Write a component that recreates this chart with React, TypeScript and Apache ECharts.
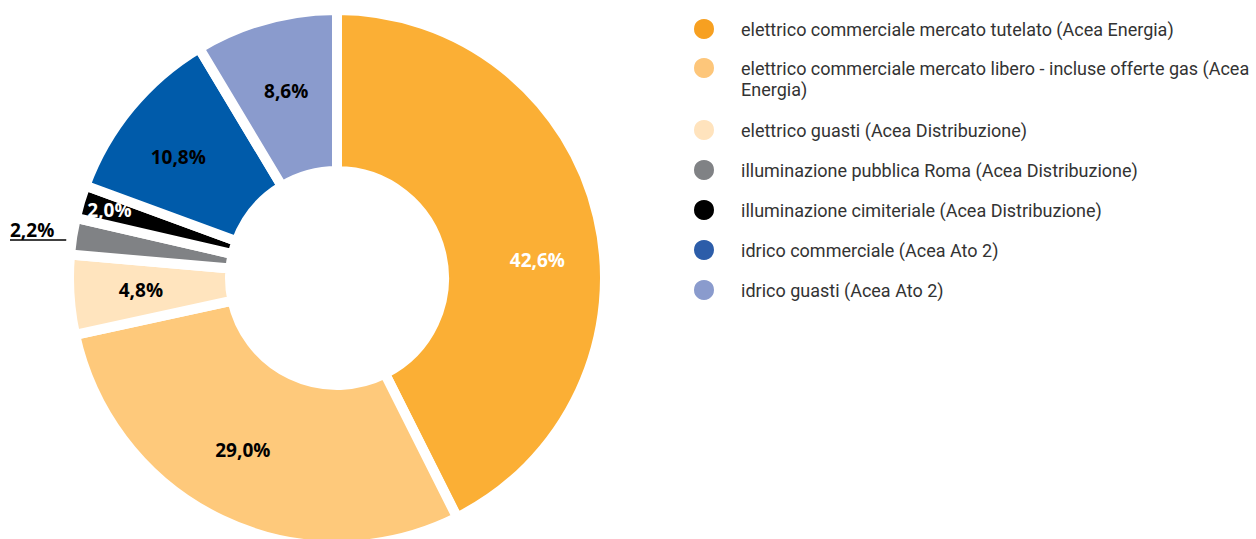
import React, { useEffect, useRef } from "react";
import * as echarts from "echarts";

const categories = [
  "elettrico commerciale mercato tutelato (Acea Energia)",
  "elettrico commerciale mercato libero - incluse offerte gas (Acea Energia)",
  "elettrico guasti (Acea Distribuzione)",
  "illuminazione pubblica Roma (Acea Distribuzione)",
  "illuminazione cimiteriale (Acea Distribuzione)",
  "idrico commerciale (Acea Ato 2)",
  "idrico guasti (Acea Ato 2)",
];
const legendLabels = [
  "elettrico commerciale mercato tutelato (Acea Energia)",
  " \nelettrico commerciale mercato libero - incluse offerte gas (Acea\nEnergia)",
  "elettrico guasti (Acea Distribuzione)",
  "illuminazione pubblica Roma (Acea Distribuzione)",
  "illuminazione cimiteriale (Acea Distribuzione)",
  "idrico commerciale (Acea Ato 2)",
  "idrico guasti (Acea Ato 2)",
];
const values = [42.6, 29.0, 4.8, 2.2, 2.0, 10.8, 8.6];
const sliceColors = ["#FBAF35", "#FEC97B", "#FFE4BE", "#808285", "#000000", "#005BAA", "#8A9BCD"];
const legendColors = ["#F7A021", "#FDC67A", "#FFE3BD", "#808285", "#000000", "#2C5DA9", "#8A9BCD"];
const labelColors = ["#ffffff", "#000000", "#000000", "#000000", "#ffffff", "#000000", "#000000"];

const fmt = (v: number) => v.toFixed(1).replace(".", ",") + "%";

export default function App() {
  const ref = useRef<HTMLDivElement>(null);
  useEffect(() => {
    document.body.style.margin = "0";
    const chart = echarts.init(ref.current!, undefined, { renderer: "svg" });
    const cx = 337;
    const cy = 278;
    const rOut = 268;
    const labelOffsets: Record<number, [number, number]> = {
      0: [15, 26],
      1: [-12, 0],
      2: [-6, 0],
      4: [-45, -14],
      5: [-12, 0],
      6: [0, -3],
    };
    const rowCenters = [28, 68, 129, 169, 209, 249, 289];
    const lineH = 21;
    const legends = categories.map((name, i) => {
      const nLines = legendLabels[i].split("\n").length;
      const textH = nLines * lineH;
      const topExtra = Math.max(0, (textH - 22) / 2);
      return {
        orient: "vertical",
        left: 692,
        top: rowCenters[i] - 11 - topExtra,
        padding: 0,
        itemWidth: 22,
        itemHeight: 22,
        icon: "circle",
        selectedMode: false,
        formatter: () => legendLabels[i],
        textStyle: {
          fontFamily: "Roboto",
          fontSize: 18,
          color: "#333333",
          lineHeight: lineH,
          padding: [0, 0, 0, 21],
        },
        data: [{ name, itemStyle: { color: legendColors[i] } }],
      };
    });
    chart.setOption({
      animation: false,
      legend: legends,
      series: [
        {
          type: "pie",
          center: [cx, cy],
          radius: [107, rOut],
          startAngle: 90,
          clockwise: true,
          avoidLabelOverlap: false,
          itemStyle: { borderColor: "#ffffff", borderWidth: 10 },
          label: {
            show: true,
            position: "inside",
            fontFamily: "Open Sans",
            fontWeight: "bold",
            fontSize: 19,
            formatter: (p: any) => fmt(p.value),
          },
          labelLine: { show: false },
          emphasis: { disabled: true },
          data: categories.map((name, i) => {
            const item: any = {
              name,
              value: values[i],
              itemStyle: { color: sliceColors[i] },
              label: { color: labelColors[i] },
            };
            if (i === 3) {
              item.label = { position: "outside", color: "#000000" };
              item.labelLine = {
                show: true,
                length: 5,
                length2: 20,
                lineStyle: { color: "#000000", width: 1.5 },
              };
            }
            return item;
          }),
          labelLayout: (params: any) => {
            const i = params.dataIndex;
            if (i === 3) {
              let p0 = params.labelLinePoints && params.labelLinePoints[0];
              if (!p0) {
                const before = values.slice(0, 3).reduce((a, b) => a + b, 0);
                const total = values.reduce((a, b) => a + b, 0);
                const ang = ((before + values[3] / 2) / total) * Math.PI * 2;
                p0 = [cx + rOut * Math.sin(ang), cy - rOut * Math.cos(ang)];
              }
              const y = p0[1] + 4;
              return {
                x: 10,
                y: y - 1,
                align: "left",
                verticalAlign: "bottom",
                labelLinePoints: [
                  [p0[0] - 6, y],
                  [p0[0] - 6, y],
                  [10, y],
                ],
              };
            }
            const o = labelOffsets[i];
            if (o) return { dx: o[0], dy: o[1] };
            return {};
          },
        },
      ],
    });
    return () => chart.dispose();
  }, []);
  return (
    <div
      ref={ref}
      style={{ position: "absolute", left: 0, top: 0, width: 1256, height: 539 }}
    />
  );
}
